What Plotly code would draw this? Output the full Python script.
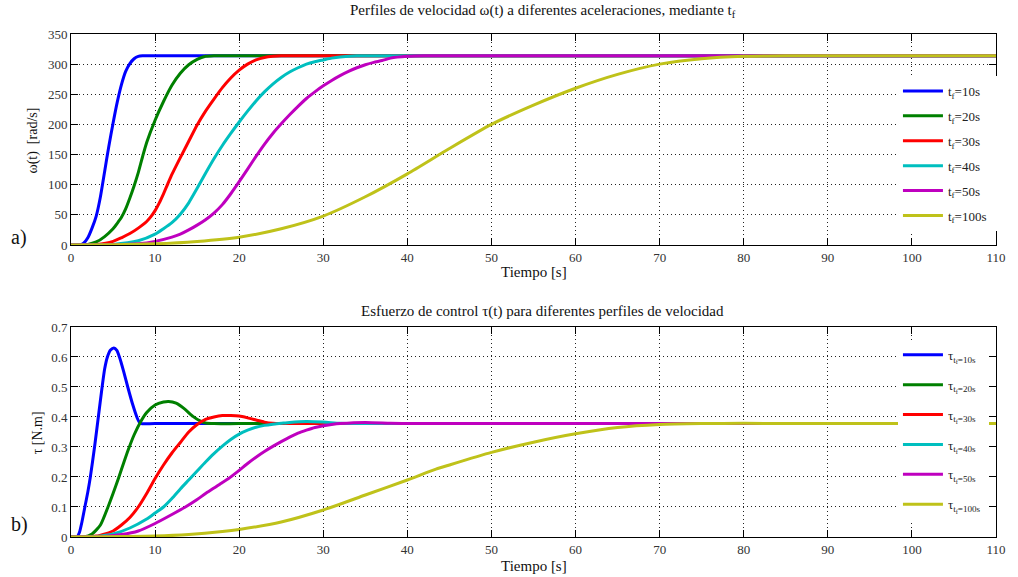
import plotly.graph_objects as go

# ---------------- data ----------------
# velocity profiles w(t) [rad/s]
t_w10 = [0, 1, 1.5, 2, 2.5, 3, 3.5, 4, 4.5, 5, 5.5, 6, 6.5, 7, 7.5, 8, 8.5, 10, 110]
w_10 = [0, 0, 3, 12, 28, 48, 80, 122, 164, 202, 237, 266, 288, 301, 309, 313, 314, 314, 314]

t_w20 = [0, 2, 3, 4, 5, 5.5, 6, 6.5, 7, 7.5, 8, 8.5, 9, 10, 11, 12, 13, 14, 15, 16, 17, 20, 110]
w_20 = [0, 1, 5, 14, 27, 36, 46, 60, 78, 98, 120, 146, 170, 207, 238, 265, 285, 299, 308, 313, 314, 314, 314]

t_w30 = [0, 3, 5, 6, 7, 8, 9, 9.5, 10, 10.5, 11, 11.5, 12, 13, 14, 15, 16, 17, 18, 19, 20, 21, 22, 23, 24, 25, 27, 110]
w_30 = [0, 1, 6, 12, 19, 28, 39, 47, 57, 70, 85, 101, 117, 145, 172, 199, 222, 242, 261, 277, 290, 300, 307, 311, 313, 314, 314, 314]

t_w40 = [0, 5, 8, 10, 11, 12, 13, 14, 15, 16, 17, 18, 19, 20, 21, 22, 23, 24, 25, 26, 27, 28, 29, 30, 31, 32, 34, 36, 110]
w_40 = [0, 1, 7, 18, 27, 37, 51, 70, 94, 119, 143, 165, 185, 204, 222, 239, 254, 267, 278, 287, 294, 300, 304, 307, 310, 312, 314, 314, 314]

t_w50 = [0, 5, 8, 10, 12, 13, 14, 15, 16, 17, 18, 19, 20, 21, 22, 23, 24, 25, 26, 27, 28, 29, 30, 31, 32, 33, 34, 35, 36, 37, 38, 40, 42, 110]
w_50 = [0, 0.5, 2, 6, 13, 18, 25, 33, 42, 53, 67, 85, 105, 126, 147, 167, 185, 201, 216, 230, 243, 254, 264, 273, 281, 288, 294, 299, 303, 306, 310, 313, 314, 314]

t_w100 = [0, 5, 10, 15, 20, 25, 30, 35, 40, 45, 50, 55, 60, 65, 70, 75, 80, 85, 90, 110]
w_100 = [0, 0.3, 2, 6, 13, 27, 48, 80, 118, 160, 200, 232, 260, 283, 300, 309, 313, 314, 314, 314]

# control effort tau(t) [N.m]
t_t10 = [0, 0.7, 1.0, 1.3, 1.65, 2.0, 2.3, 2.8, 3.25, 3.7, 4.0, 4.33, 4.7, 5.1, 5.45, 5.76, 6.25, 6.75, 7.3, 7.9, 8.1, 8.35, 10, 110]
tau_10 = [0, 0, 0.015, 0.05, 0.1, 0.15, 0.2, 0.3, 0.4, 0.5, 0.56, 0.6, 0.623, 0.63, 0.622, 0.6, 0.553, 0.5, 0.445, 0.395, 0.384, 0.378, 0.378, 0.378]

t_t20 = [0, 1.5, 2.5, 3.5, 4.4, 5.0, 5.7, 6.3, 6.8, 7.5, 8.3, 9.0, 10.0, 11.0, 11.6, 12.5, 13.5, 14.5, 15.4, 16.0, 17.0, 20, 110]
tau_20 = [0, 0, 0.01, 0.04, 0.1, 0.145, 0.2, 0.25, 0.29, 0.34, 0.385, 0.415, 0.44, 0.45, 0.452, 0.446, 0.427, 0.402, 0.386, 0.38, 0.378, 0.378, 0.378]

t_t30 = [0, 3, 5, 6, 7, 8, 9, 10, 11, 12, 13, 14, 15, 16, 17, 18, 19, 20, 21, 22, 23, 24, 25, 30, 110]
tau_30 = [0, 0.003, 0.02, 0.04, 0.065, 0.1, 0.145, 0.195, 0.24, 0.28, 0.315, 0.35, 0.375, 0.392, 0.4, 0.405, 0.405, 0.403, 0.397, 0.39, 0.383, 0.379, 0.378, 0.378, 0.378]

t_t40 = [0, 3, 5, 7, 9, 10, 11, 12, 13, 14, 15, 16, 17, 18, 19, 20, 21, 22, 23, 24, 25, 26, 28, 30, 32, 34, 110]
tau_40 = [0, 0.002, 0.01, 0.03, 0.06, 0.08, 0.1, 0.128, 0.16, 0.19, 0.22, 0.25, 0.278, 0.303, 0.325, 0.343, 0.356, 0.366, 0.372, 0.376, 0.379, 0.382, 0.385, 0.383, 0.379, 0.378, 0.378]

t_t50 = [0, 4, 6, 8, 10, 12, 13.6, 15, 16, 17, 18, 18.7, 20, 21, 22, 23, 24, 25, 26, 27, 28, 29, 30, 31, 32, 35, 38, 40, 110]
tau_50 = [0, 0.002, 0.008, 0.02, 0.045, 0.075, 0.1, 0.125, 0.145, 0.163, 0.182, 0.194, 0.222, 0.245, 0.266, 0.285, 0.302, 0.318, 0.333, 0.346, 0.356, 0.365, 0.371, 0.375, 0.378, 0.382, 0.379, 0.378, 0.378]

t_t100 = [0, 10, 14, 18, 20, 25, 30, 35, 40, 43.4, 45, 50, 55, 60, 65, 70, 75, 80, 85, 110]
tau_100 = [0, 0.003, 0.008, 0.018, 0.025, 0.05, 0.09, 0.14, 0.19, 0.226, 0.24, 0.282, 0.316, 0.344, 0.365, 0.375, 0.378, 0.379, 0.378, 0.378]

tf_labels = ["10s", "20s", "30s", "40s", "50s", "100s"]
colors = ["#0000FF", "#008000", "#FF0000", "#00BFBF", "#BF00BF", "#BFC21A"]

vel_t = [t_w10, t_w20, t_w30, t_w40, t_w50, t_w100]
vel_w = [w_10, w_20, w_30, w_40, w_50, w_100]
tau_t = [t_t10, t_t20, t_t30, t_t40, t_t50, t_t100]
tau_v = [tau_10, tau_20, tau_30, tau_40, tau_50, tau_100]

FONT = "Liberation Serif"
NBSP = "\u00a0"

fig = go.Figure()
for i in range(6):
    fig.add_trace(go.Scatter(
        x=vel_t[i], y=vel_w[i], mode="lines",
        line=dict(color=colors[i], width=3, shape="spline", smoothing=0.6),
        name="t<sub>f</sub>=" + tf_labels[i] + NBSP * 2,
        xaxis="x", yaxis="y", legend="legend", legendgroup="a%d" % i,
    ))
for i in range(6):
    fig.add_trace(go.Scatter(
        x=tau_t[i], y=tau_v[i], mode="lines",
        line=dict(color=colors[i], width=3, shape="spline", smoothing=0.6),
        name="τ<sub>t<sub>f</sub>=" + tf_labels[i] + "</sub>" + NBSP,
        xaxis="x2", yaxis="y2", legend="legend2", legendgroup="b%d" % i,
    ))

ax_common = dict(
    showline=True, linecolor="black", linewidth=1, mirror="ticks",
    ticks="inside", ticklen=7, tickcolor="black", tickwidth=1,
    showgrid=True, gridcolor="#222", gridwidth=1, griddash="1px,3px",
    zeroline=False, tickfont=dict(family=FONT, size=13, color="#333"),
)

fig.update_layout(
    width=1018, height=577,
    margin=dict(l=71, r=12, t=34, b=40),
    paper_bgcolor="white", plot_bgcolor="white",
    font=dict(family=FONT, color="#222"),
    xaxis=dict(domain=[0, 1], anchor="y", range=[0, 110], tick0=0, dtick=10, **ax_common),
    yaxis=dict(domain=[0.5805, 1], anchor="x", range=[0, 350], tick0=0, dtick=50, **ax_common),
    xaxis2=dict(domain=[0, 1], anchor="y2", range=[0, 110], tick0=0, dtick=10, **ax_common),
    yaxis2=dict(domain=[0, 0.4175], anchor="x2", range=[0, 0.7], tick0=0, dtick=0.1, **ax_common),
    legend=dict(x=0.894, xanchor="left", y=0.9165, yanchor="top", bgcolor="white",
                borderwidth=0, itemwidth=40, tracegroupgap=5,
                font=dict(family=FONT, size=13, color="#222")),
    legend2=dict(x=0.894, xanchor="left", y=0.392, yanchor="top", bgcolor="white",
                 borderwidth=0, itemwidth=40, tracegroupgap=10,
                 font=dict(family=FONT, size=13, color="#222")),
    showlegend=True,
)

ann = [
    dict(text="Perfiles de velocidad ω(t) a diferentes aceleraciones, mediante t<sub>f</sub>",
         x=0.51, y=1.046, size=15),
    dict(text="Esfuerzo de control τ(t) para diferentes perfiles de velocidad",
         x=0.51, y=0.4493, size=15),
    dict(text="Tiempo [s]", x=0.5, y=0.527, size=15),
    dict(text="Tiempo [s]", x=0.5, y=-0.0577, size=15),
    dict(text="a)", x=-0.0567, y=0.5964, size=20),
    dict(text="b)", x=-0.0556, y=0.0239, size=20),
]
for a in ann:
    fig.add_annotation(text=a["text"], x=a["x"], y=a["y"], xref="paper", yref="paper",
                       showarrow=False, xanchor="center", yanchor="middle",
                       font=dict(family=FONT, size=a["size"], color="#111"))
fig.add_annotation(text="ω(t)  [rad/s]", x=-0.0406, y=0.789, xref="paper", yref="paper",
                   showarrow=False, textangle=-90, xanchor="center", yanchor="middle",
                   font=dict(family=FONT, size=14, color="#111"))
fig.add_annotation(text="τ [N.m]", x=-0.0353, y=0.2068, xref="paper", yref="paper",
                   showarrow=False, textangle=-90, xanchor="center", yanchor="middle",
                   font=dict(family=FONT, size=14, color="#111"))

fig.write_html("out.html")
